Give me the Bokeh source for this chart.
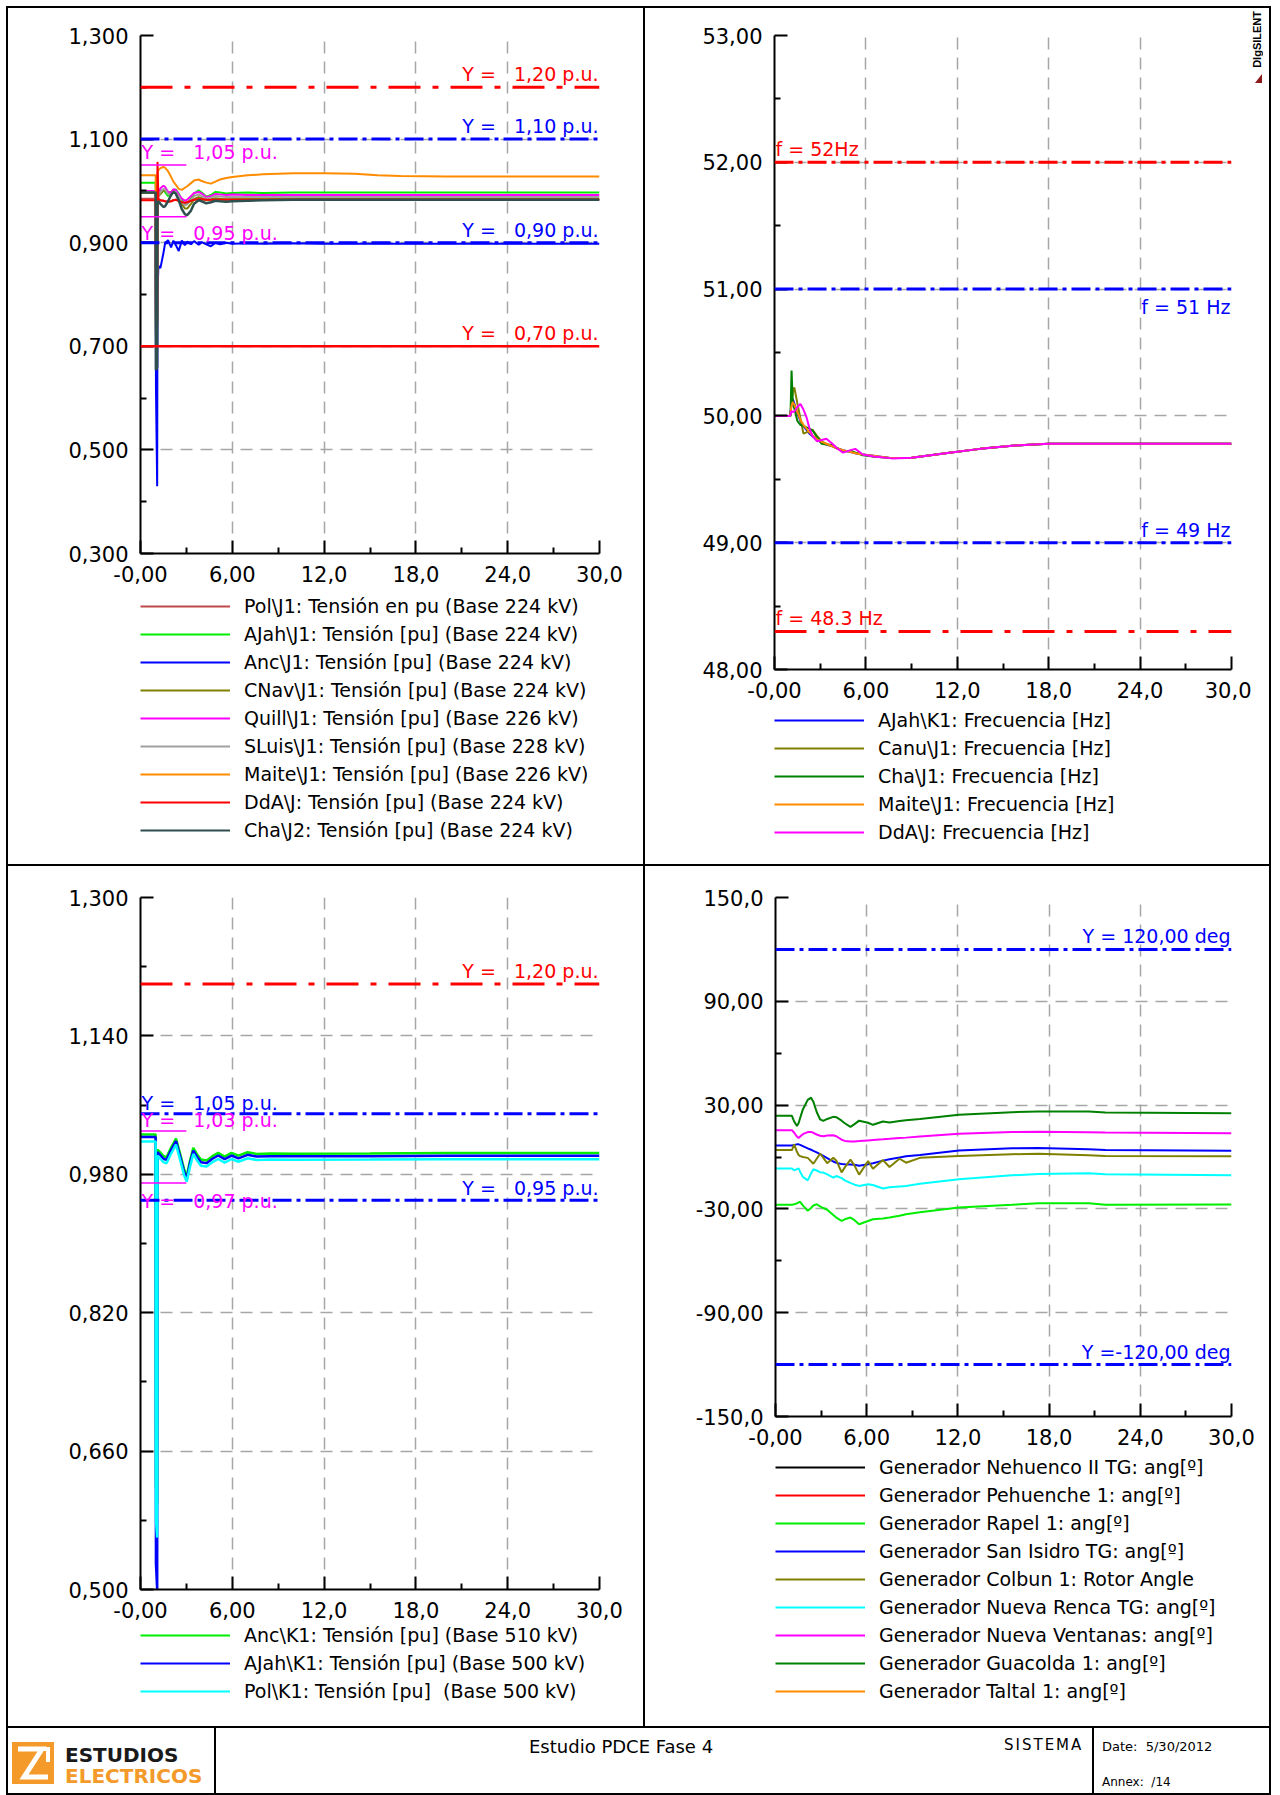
from bokeh.plotting import figure
from bokeh.models import Range1d, FixedTicker, Span, Label, Legend, LegendItem, Div
from bokeh.layouts import row, column
from bokeh.embed import file_html
from bokeh.resources import INLINE

# ------------------------------------------------------------------ data
x_ticks = [0, 6, 12, 18, 24, 30]
x_minor = [3, 9, 15, 21, 27]
x_tick_labels = ["-0,00", "6,00", "12,0", "18,0", "24,0", "30,0"]

# --- top-left: 220 kV voltages
tl_yticks = [0.3, 0.5, 0.7, 0.9, 1.1, 1.3]
tl_yminor = [0.4, 0.6, 0.8, 1.0, 1.2]
tl_ylabels = ["0,300", "0,500", "0,700", "0,900", "1,100", "1,300"]
tl_t = [0.0, 0.99, 1.01, 1.09, 1.11, 1.17, 1.3, 1.5, 1.6, 1.8, 2.0, 2.15, 2.3, 2.5, 2.7, 2.9, 3.05,
        3.3, 3.5, 3.8, 4.0, 4.3, 4.6, 4.9, 5.2, 5.6, 6.0, 7.0, 8.0, 10.0, 12.0, 14.0, 15.5, 17.0,
        20.0, 25.0, 30.0]
tl_pol = [0.985, 0.985, 0.73, 0.75, 0.975, 0.980, 0.982, 0.981, 0.980, 0.979, 0.980, 0.982, 0.983,
          0.981, 0.978, 0.977, 0.978, 0.981, 0.983, 0.984, 0.984, 0.983, 0.983, 0.984, 0.984, 0.984,
          0.984, 0.984, 0.984, 0.984, 0.984, 0.984, 0.984, 0.984, 0.984, 0.984, 0.984]
tl_ajah = [1.0155, 1.0155, 0.74, 0.76, 0.990, 0.996, 1.000, 1.002, 0.998, 0.990, 0.996, 1.001, 1.003,
           0.995, 0.982, 0.973, 0.975, 0.985, 0.995, 1.001, 0.997, 0.989, 0.992, 0.998, 0.997, 0.995,
           0.996, 0.997, 0.996, 0.997, 0.997, 0.997, 0.997, 0.997, 0.997, 0.997, 0.997]
tl_anc = [0.900, 0.900, 0.62, 0.43, 0.80, 0.855, 0.851, 0.880, 0.898, 0.905, 0.891, 0.904, 0.896,
          0.884, 0.904, 0.895, 0.902, 0.897, 0.903, 0.896, 0.901, 0.897, 0.893, 0.900, 0.897, 0.900,
          0.898, 0.899, 0.898, 0.899, 0.898, 0.898, 0.898, 0.898, 0.898, 0.898, 0.898]
tl_cnav = [0.996, 0.996, 0.73, 0.75, 0.985, 0.990, 0.994, 1.000, 1.001, 0.996, 0.998, 1.001, 0.999,
           0.990, 0.975, 0.966, 0.966, 0.975, 0.984, 0.988, 0.986, 0.982, 0.984, 0.986, 0.985, 0.983,
           0.984, 0.984, 0.984, 0.984, 0.984, 0.984, 0.984, 0.984, 0.984, 0.984, 0.984]
tl_quill = [1.000, 1.000, 0.75, 0.77, 0.990, 0.995, 1.005, 1.010, 1.008, 0.998, 0.996, 1.003, 1.002,
            0.993, 0.985, 0.981, 0.983, 0.990, 0.996, 0.998, 0.995, 0.988, 0.990, 0.994, 0.993, 0.992,
            0.993, 0.992, 0.992, 0.992, 0.992, 0.992, 0.992, 0.992, 0.992, 0.992, 0.992]
tl_sluis = [0.998, 0.998, 0.70, 0.72, 0.985, 0.990, 0.998, 1.004, 1.003, 0.994, 0.992, 0.998, 0.998,
            0.989, 0.978, 0.972, 0.974, 0.983, 0.990, 0.993, 0.990, 0.985, 0.987, 0.990, 0.989, 0.988,
            0.988, 0.988, 0.988, 0.988, 0.988, 0.988, 0.988, 0.988, 0.988, 0.988, 0.988]
tl_maite = [1.030, 1.030, 0.76, 0.78, 1.035, 1.040, 1.044, 1.046, 1.045, 1.038, 1.027, 1.018, 1.012,
            1.004, 1.002, 1.006, 1.009, 1.015, 1.020, 1.022, 1.019, 1.016, 1.014, 1.018, 1.022, 1.025,
            1.027, 1.030, 1.032, 1.034, 1.034, 1.033, 1.030, 1.029, 1.028, 1.028, 1.028]
tl_dda = [0.982, 0.982, 0.72, 0.74, 1.056, 0.985, 0.982, 0.981, 0.980, 0.979, 0.980, 0.982, 0.983,
          0.981, 0.978, 0.977, 0.978, 0.981, 0.983, 0.984, 0.984, 0.983, 0.983, 0.983, 0.983, 0.983,
          0.983, 0.983, 0.983, 0.983, 0.983, 0.983, 0.983, 0.983, 0.983, 0.983, 0.983]
tl_cha = [0.997, 0.997, 0.654, 0.66, 0.975, 0.980, 0.975, 0.969, 0.970, 0.980, 0.992, 0.998, 0.995,
          0.982, 0.965, 0.955, 0.953, 0.962, 0.975, 0.982, 0.980, 0.976, 0.978, 0.981, 0.980, 0.979,
          0.980, 0.981, 0.982, 0.983, 0.983, 0.983, 0.983, 0.983, 0.983, 0.983, 0.983]
tl_series = [tl_pol, tl_ajah, tl_anc, tl_cnav, tl_quill, tl_sluis, tl_maite, tl_dda, tl_cha]
tl_names = ["Pol\\J1: Tensión en pu (Base 224 kV)", "AJah\\J1: Tensión [pu] (Base 224 kV)",
            "Anc\\J1: Tensión [pu] (Base 224 kV)", "CNav\\J1: Tensión [pu] (Base 224 kV)",
            "Quill\\J1: Tensión [pu] (Base 226 kV)", "SLuis\\J1: Tensión [pu] (Base 228 kV)",
            "Maite\\J1: Tensión [pu] (Base 226 kV)", "DdA\\J: Tensión [pu] (Base 224 kV)",
            "Cha\\J2: Tensión [pu] (Base 224 kV)"]
tl_limits_red_dashdot = [1.20]
tl_limits_blue = [1.10, 0.90]
tl_limits_red_solid = [0.70]
tl_band = [1.05, 0.95]
tl_band_end = 3.0

# --- top-right: frequency
tr_yticks = [48, 49, 50, 51, 52, 53]
tr_yminor = [48.5, 49.5, 50.5, 51.5, 52.5]
tr_ylabels = ["48,00", "49,00", "50,00", "51,00", "52,00", "53,00"]
tr_t = [0.0, 1.0, 1.05, 1.12, 1.2, 1.3, 1.5, 1.7, 1.9, 2.1, 2.3, 2.5, 2.8, 3.1, 3.4, 3.8, 4.1, 4.5,
        5.0, 5.3, 5.8, 6.5, 7.7, 9.0, 11.6, 13.5, 15.6, 17.0, 18.0, 24.0, 30.0]
tr_tail = [49.670, 49.712, 49.740, 49.765, 49.775, 49.780, 49.780, 49.780]
tr_ajah = [50, 50, 50.03, 50.10, 50.133, 50.10, 50.02, 49.96, 49.92, 49.89, 49.86, 49.84, 49.81, 49.79,
           49.775, 49.76, 49.745, 49.73, 49.715, 49.705, 49.695, 49.685, 49.667] + tr_tail
tr_canu = [50, 50, 50.0, 50.10, 50.18, 50.225, 50.10, 49.98, 49.86, 49.87, 49.885, 49.89, 49.84, 49.80,
           49.78, 49.76, 49.745, 49.725, 49.72, 49.71, 49.695, 49.68, 49.667] + tr_tail
tr_cha = [50, 50, 50.0, 50.357, 50.10, 50.06, 49.96, 49.93, 49.92, 49.91, 49.90, 49.885, 49.83, 49.78,
          49.775, 49.77, 49.745, 49.72, 49.725, 49.71, 49.69, 49.68, 49.667] + tr_tail
tr_maite = [50, 50, 50.02, 50.08, 50.11, 50.09, 50.03, 49.97, 49.93, 49.90, 49.87, 49.845, 49.815, 49.795,
            49.78, 49.76, 49.745, 49.73, 49.715, 49.705, 49.695, 49.685, 49.667] + tr_tail
tr_dda = [50, 50, 50.01, 50.04, 50.03, 50.035, 50.07, 50.094, 50.05, 49.99, 49.90, 49.84, 49.80, 49.81,
          49.82, 49.78, 49.745, 49.71, 49.73, 49.74, 49.695, 49.68, 49.665] + tr_tail
tr_series = [tr_ajah, tr_canu, tr_cha, tr_maite, tr_dda]
tr_names = ["AJah\\K1: Frecuencia [Hz]", "Canu\\J1: Frecuencia [Hz]", "Cha\\J1: Frecuencia [Hz]",
            "Maite\\J1: Frecuencia [Hz]", "DdA\\J: Frecuencia [Hz]"]

# --- bottom-left: 500 kV voltages
bl_yticks = [0.5, 0.66, 0.82, 0.98, 1.14, 1.3]
bl_yminor = [0.58, 0.74, 0.90, 1.06, 1.22]
bl_ylabels = ["0,500", "0,660", "0,820", "0,980", "1,140", "1,300"]
bl_t = [0.0, 0.99, 1.01, 1.09, 1.11, 1.3, 1.5, 1.7, 2.0, 2.32, 2.6, 2.85, 3.02, 3.2, 3.45, 3.7, 3.95,
        4.32, 4.7, 5.08, 5.5, 5.95, 6.4, 7.0, 7.6, 8.5, 10.0, 15.0, 20.0, 30.0]
bl_anc = [1.026, 1.026, 0.62, 0.60, 1.0086, 1.005, 1.001, 0.9997, 1.011, 1.0213, 1.003, 0.986, 0.9775,
          0.993, 1.0105, 1.003, 0.997, 0.9959, 1.001, 1.0047, 1.0005, 1.0047, 1.0015, 1.0055, 1.0035,
          1.004, 1.0038, 1.004, 1.0045, 1.0045]
bl_ajah = [1.023, 1.023, 0.53, 0.50, 1.0056, 1.002, 0.998, 0.9967, 1.008, 1.0183, 1.0, 0.983, 0.9745,
           0.990, 1.0075, 1.0, 0.994, 0.9929, 0.998, 1.0017, 0.9975, 1.0017, 0.9985, 1.0025, 1.0005,
           1.001, 1.0008, 1.001, 1.0015, 1.0015]
bl_pol = [1.018, 1.018, 0.58, 0.56, 1.0016, 0.998, 0.994, 0.9927, 1.004, 1.0143, 0.996, 0.979, 0.9715,
          0.986, 1.0035, 0.996, 0.990, 0.9889, 0.994, 0.9977, 0.9935, 0.9977, 0.9945, 0.9985, 0.9965,
          0.997, 0.9968, 0.997, 0.9975, 0.9975]
bl_series = [bl_anc, bl_ajah, bl_pol]
bl_names = ["Anc\\K1: Tensión [pu] (Base 510 kV)", "AJah\\K1: Tensión [pu] (Base 500 kV)",
            "Pol\\K1: Tensión [pu] \u00a0(Base 500 kV)"]
bl_limits_red = [1.20]
bl_limits_blue = [1.05, 0.95]
bl_band = [1.03, 0.97]
bl_band_end = 3.0

# --- bottom-right: rotor angles
br_yticks = [-150, -90, -30, 30, 90, 150]
br_yminor = [-120, -60, 0, 60, 120]
br_ylabels = ["-150,0", "-90,00", "-30,00", "30,00", "90,00", "150,0"]
br_t = [0.0, 1.08, 1.23, 1.41, 1.52, 1.62, 1.8, 2.12, 2.34, 2.49, 2.71, 2.93, 3.15, 3.4, 3.8, 4.0,
        4.35, 4.56, 4.93, 5.2, 5.5, 6.09, 6.41, 7.07, 7.5, 8.16, 8.59, 9.5, 12.07, 15.56, 17.3,
        20.6, 21.7, 30.0]
br_nehuenco = []
br_pehuenche = []
br_rapel = [-27.6, -27.6, -27.3, -26.8, -26.2, -25.9, -28.0, -31.1, -29.5, -28.0, -27.3, -28.5, -29.5,
            -30.5, -33.5, -35.0, -36.9, -36.0, -35.0, -36.5, -38.9, -37.0, -36.0, -35.5, -35.0, -34.0,
            -33.1, -32.0, -29.2, -27.6, -26.7, -26.7, -27.6, -27.5]
br_sanisidro = [6.7, 6.7, 7.0, 7.3, 7.3, 7.0, 6.3, 5.0, 4.2, 3.5, 2.7, 1.7, 0.6, -0.6, -2.6, -3.4, -4.0,
                -4.2, -4.3, -4.5, -5.0, -4.2, -3.6, -2.1, -1.3, -0.3, 0.4, 1.2, 3.7, 5.0, 5.2, 4.5,
                4.0, 3.6]
br_colbun = [4.0, 4.0, 7.3, 3.0, 1.2, 0.5, 0.0, -0.5, -2.5, -3.9, -1.0, 1.9, -0.5, -3.6, -0.5, -2.0,
             -8.9, -6.0, -1.5, -5.0, -10.2, -2.4, -6.8, -1.8, -5.8, -1.0, -3.3, -0.5, 0.6, 1.6, 1.9,
             1.0, 0.6, 0.4]
br_nuevarenca = [-6.6, -6.6, -7.7, -7.0, -6.6, -8.5, -11.5, -13.5, -9.5, -7.1, -7.8, -8.8, -9.0, -10.0,
                 -11.9, -11.0, -12.2, -13.5, -15.0, -16.0, -16.7, -15.8, -16.2, -18.2, -17.5, -17.0,
                 -16.7, -15.5, -12.9, -10.6, -9.8, -9.4, -10.0, -10.6]
br_ventanas = [15.5, 15.5, 14.0, 11.8, 11.0, 11.8, 13.2, 14.4, 14.5, 14.0, 13.0, 12.3, 12.0, 12.4, 12.6,
               12.0, 10.0, 9.3, 8.9, 9.0, 9.2, 9.6, 9.8, 10.2, 10.5, 11.0, 11.2, 11.8, 13.5, 14.5, 14.6,
               14.3, 14.1, 13.7]
br_guacolda = [23.8, 23.8, 20.5, 18.0, 19.5, 22.5, 27.5, 33.0, 34.3, 32.0, 26.0, 21.8, 20.9, 22.0, 23.2,
               23.0, 21.0, 19.5, 17.4, 19.0, 21.0, 19.8, 18.6, 20.5, 20.0, 20.8, 21.3, 22.0, 24.4, 25.9,
               26.3, 26.3, 25.7, 25.3]
br_taltal = []
br_series = [br_nehuenco, br_pehuenche, br_rapel, br_sanisidro, br_colbun, br_nuevarenca, br_ventanas,
             br_guacolda, br_taltal]
br_names = ["Generador Nehuenco II TG: ang[º]", "Generador Pehuenche 1: ang[º]",
            "Generador Rapel 1: ang[º]", "Generador San Isidro TG: ang[º]",
            "Generador Colbun 1: Rotor Angle", "Generador Nueva Renca TG: ang[º]",
            "Generador Nueva Ventanas: ang[º]", "Generador Guacolda 1: ang[º]",
            "Generador Taltal 1: ang[º]"]
br_limits_blue = [120.0, -120.0]

# ------------------------------------------------------------------ style
FONT = "DejaVu Sans"
GRID = "#a6a6a6"
RED = "#ff0000"
BLUE = "#0000ff"
MAG = "#ff00ff"
DASH_LONG = "32 12 6 12"
DASH_DOT = "19 5 4 5"
NB = "\u00a0"
NAN = float("nan")

tl_colors = ["#c04848", "#00ee00", BLUE, "#808000", MAG, "#a0a0a0", "#ff8c00", RED, "#2f4f4f"]
tr_colors = [BLUE, "#808000", "#008000", "#ff8c00", MAG]
bl_colors = ["#00ee00", BLUE, "#00ffff"]
br_colors = ["#000000", RED, "#00ee00", BLUE, "#808000", "#00ffff", MAG, "#008000", "#ff8c00"]


def pu(v, dec=2):
    return f"{v:.{dec}f}".replace(".", ",")


def panel(width, height, left, right, top, bottom, yr, yt, ym, yl):
    p = figure(width=width, height=height, x_range=Range1d(0, 30), y_range=Range1d(*yr),
               output_backend="svg", toolbar_location=None,
               min_border_left=left, min_border_right=right,
               min_border_top=top, min_border_bottom=bottom)
    p.outline_line_color = None
    p.background_fill_color = "white"
    p.border_fill_color = "white"
    xa = p.xaxis[0]
    ya = p.yaxis[0]
    xa.ticker = FixedTicker(ticks=x_ticks, minor_ticks=x_minor)
    xa.major_label_overrides = {float(v): s for v, s in zip(x_ticks, x_tick_labels)}
    ya.ticker = FixedTicker(ticks=yt, minor_ticks=ym)
    ya.major_label_overrides = {float(v): s for v, s in zip(yt, yl)}
    for ax in (xa, ya):
        ax.axis_line_color = "black"
        ax.axis_line_width = 2
        ax.major_tick_in = 13
        ax.major_tick_out = 0
        ax.minor_tick_in = 6
        ax.minor_tick_out = 0
        ax.major_tick_line_color = "black"
        ax.major_tick_line_width = 2
        ax.minor_tick_line_color = "black"
        ax.minor_tick_line_width = 2
        ax.major_label_text_font = FONT
        ax.major_label_text_font_size = "21px"
        ax.major_label_text_color = "black"
    xa.major_label_standoff = 12
    ya.major_label_standoff = 12
    for g in (p.xgrid[0], p.ygrid[0]):
        g.grid_line_color = GRID
        g.grid_line_dash = "12 8"
        g.grid_line_width = 1.5
    return p


def legend_fig(width, height, left, top, colors, names):
    lf = figure(width=width, height=height, x_range=Range1d(0, 1), y_range=Range1d(0, 1),
                x_axis_type=None, y_axis_type=None, output_backend="svg", toolbar_location=None,
                min_border_left=left, min_border_top=top, min_border_right=0, min_border_bottom=0)
    lf.outline_line_color = None
    lf.background_fill_color = "white"
    lf.border_fill_color = "white"
    # key renderers: carry the series colour for the legend sample, draw nothing themselves
    rs = [lf.line(x=[NAN], y=[NAN], line_color=c, line_width=2) for c in colors]
    items = [LegendItem(label=n, renderers=[r]) for n, r in zip(names, rs)]
    leg = Legend(items=items, location="top_left", orientation="vertical",
                 glyph_width=90, glyph_height=20, label_height=20, label_standoff=14,
                 spacing=6, padding=0, margin=0, border_line_alpha=0,
                 background_fill_alpha=0, label_text_font=FONT,
                 label_text_font_size="19px", label_text_color="black")
    lf.add_layout(leg)
    return lf


def hline(p, y, color, dash, width=3):
    p.add_layout(Span(location=y, dimension="width", line_color=color,
                      line_width=width, line_dash=dash))


def tag(p, x, y, text, color, align, dy, dx=0):
    p.add_layout(Label(x=x, y=y, text=text, text_color=color, text_align=align,
                       text_baseline="middle", x_offset=dx, y_offset=dy,
                       text_font=FONT, text_font_size="19px"))


def Yeq(v, unit="p.u.", dec=2):
    return f"Y{NB}={NB}{NB}{NB}{pu(v, dec)} {unit}"


# ------------------------------------------------------------------ top-left
p_tl = panel(635, 585, 131, 44, 27, 40, (0.3, 1.3), tl_yticks, tl_yminor, tl_ylabels)
for s, c in zip(tl_series, tl_colors):
    p_tl.line(tl_t, s, line_color=c, line_width=2.5 if c == "#2f4f4f" else 2)
for lv in tl_band:
    p_tl.line([0, tl_band_end], [lv, lv], line_color=MAG, line_width=1.5)
for lv in tl_limits_red_dashdot:
    hline(p_tl, lv, RED, DASH_LONG)
    tag(p_tl, 30, lv, Yeq(lv), RED, "right", 13, -1)
for lv in tl_limits_blue:
    hline(p_tl, lv, BLUE, DASH_DOT)
    tag(p_tl, 30, lv, Yeq(lv), BLUE, "right", 13, -1)
for lv in tl_limits_red_solid:
    hline(p_tl, lv, RED, "solid", 2.5)
    tag(p_tl, 30, lv, Yeq(lv), RED, "right", 13, -1)
tag(p_tl, 0, tl_band[0], Yeq(tl_band[0]), MAG, "left", 13, 1)
tag(p_tl, 0, tl_band[1], Yeq(tl_band[1]), MAG, "left", -16, 1)
l_tl = legend_fig(635, 271, 132, 2, tl_colors, tl_names)

# ------------------------------------------------------------------ top-right
p_tr = panel(606, 701, 127, 20, 27, 40, (48, 53), tr_yticks, tr_yminor, tr_ylabels)
for s, c in zip(tr_series, tr_colors):
    p_tr.line(tr_t, s, line_color=c, line_width=2)
hline(p_tr, 52, RED, DASH_DOT)
hline(p_tr, 51, BLUE, DASH_DOT)
hline(p_tr, 49, BLUE, DASH_DOT)
hline(p_tr, 48.3, RED, DASH_LONG)
tag(p_tr, 0, 52, f"f{NB}={NB}52Hz", RED, "left", 13, 1)
tag(p_tr, 30, 51, f"f{NB}={NB}51{NB}Hz", BLUE, "right", -18, -1)
tag(p_tr, 30, 49, f"f{NB}={NB}49{NB}Hz", BLUE, "right", 13, -1)
tag(p_tr, 0, 48.3, f"f{NB}={NB}48.3{NB}Hz", RED, "left", 13, 1)
l_tr = legend_fig(606, 155, 129, 0, tr_colors, tr_names)

# ------------------------------------------------------------------ bottom-left
p_bl = panel(635, 758, 131, 44, 31, 35, (0.5, 1.3), bl_yticks, bl_yminor, bl_ylabels)
for s, c in zip(bl_series, bl_colors):
    p_bl.line(bl_t, s, line_color=c, line_width=2.5)
for lv in bl_band:
    p_bl.line([0, bl_band_end], [lv, lv], line_color=MAG, line_width=1.5)
for lv in bl_limits_red:
    hline(p_bl, lv, RED, DASH_LONG)
    tag(p_bl, 30, lv, Yeq(lv), RED, "right", 13, -1)
for lv in bl_limits_blue:
    hline(p_bl, lv, BLUE, DASH_DOT)
tag(p_bl, 0, bl_limits_blue[0], Yeq(bl_limits_blue[0]), BLUE, "left", 11, 1)
tag(p_bl, 30, bl_limits_blue[1], Yeq(bl_limits_blue[1]), BLUE, "right", 12, -1)
tag(p_bl, 0, bl_band[0], Yeq(bl_band[0]), MAG, "left", 11, 1)
tag(p_bl, 0, bl_band[1], Yeq(bl_band[1]), MAG, "left", -18, 1)
l_bl = legend_fig(635, 102, 132, 0, bl_colors, bl_names)

# ------------------------------------------------------------------ bottom-right
p_br = panel(624, 590, 127, 38, 31, 40, (-150, 150), br_yticks, br_yminor, br_ylabels)
for s, c in zip(br_series, br_colors):
    if len(s):
        p_br.line(br_t[:len(s)], s, line_color=c, line_width=2)
for lv in br_limits_blue:
    hline(p_br, lv, BLUE, DASH_DOT)
tag(p_br, 30, br_limits_blue[0], f"Y{NB}={NB}{pu(br_limits_blue[0])}{NB}deg", BLUE, "right", 13, -1)
tag(p_br, 30, br_limits_blue[1], f"Y{NB}={pu(br_limits_blue[1])}{NB}deg", BLUE, "right", 13, -1)
l_br = legend_fig(624, 270, 130, 0, br_colors, br_names)


# ------------------------------------------------------------------ frame / title block
def bar(w, h):
    return Div(text="", width=w, height=h, margin=0, styles={"background-color": "#000000"})


def gap(w, h):
    return Div(text="", width=w, height=h, margin=0)


brand_html = (
    '<div style="position:relative;width:18px;height:856px;">'
    '<div style="position:absolute;left:1px;top:3px;writing-mode:vertical-rl;'
    'transform:rotate(180deg);font:bold 11px \'Liberation Sans\';line-height:11px;'
    'color:#000;white-space:nowrap">DIgSILENT</div>'
    '<svg style="position:absolute;left:4px;top:66px" width="7" height="9">'
    '<polygon points="0,9 7,0 7,9" fill="#8b1a1a"/></svg>'
    '</div>')

logo_html = (
    '<div style="position:relative;width:206px;height:65px;overflow:hidden;">'
    '<svg style="position:absolute;left:4px;top:14px" width="42" height="42" viewBox="0 0 42 42">'
    '<rect x="0" y="0" width="42" height="42" fill="#f39a2b"/>'
    '<polyline points="6,7 30,7 12,35 36,35" fill="none" stroke="#ffffff" stroke-width="5"/>'
    '<polyline points="30,7 36,7 36,20" fill="none" stroke="#ffffff" stroke-width="4"/>'
    '</svg>'
    '<div style="position:absolute;left:57px;top:17px;font:bold 20px \'DejaVu Sans\';'
    'line-height:1;color:#1a1a1a;white-space:nowrap">ESTUDIOS</div>'
    '<div style="position:absolute;left:57px;top:38px;font:bold 20px \'DejaVu Sans\';'
    'line-height:1;color:#f39a2b;white-space:nowrap">ELECTRICOS</div>'
    '</div>')
center_html = (
    '<div style="position:relative;width:876px;height:65px;">'
    '<div style="position:absolute;left:313px;top:10px;font:18px \'DejaVu Sans\';'
    'line-height:1;color:#000;white-space:nowrap">Estudio PDCE Fase 4</div>'
    '<div style="position:absolute;left:788px;top:10px;font:15px \'DejaVu Sans\';'
    'letter-spacing:2px;line-height:1;color:#000;white-space:nowrap">SISTEMA</div>'
    '</div>')
right_html = (
    '<div style="position:relative;width:175px;height:65px;">'
    '<div style="position:absolute;left:8px;top:12px;font:13px \'DejaVu Sans\';'
    'line-height:1;color:#000;white-space:pre">Date:  5/30/2012</div>'
    '<div style="position:absolute;left:8px;top:48px;font:12px \'DejaVu Sans\';'
    'line-height:1;color:#000;white-space:pre">Annex:  /14</div>'
    '</div>')

brand = Div(text=brand_html, width=18, height=856, margin=0)
logo = Div(text=logo_html, width=206, height=65, margin=0)
center = Div(text=center_html, width=876, height=65, margin=0)
right = Div(text=right_html, width=175, height=65, margin=0)

top_row = row(bar(2, 856), column(p_tl, l_tl, spacing=0), bar(2, 856),
              column(p_tr, l_tr, spacing=0), brand, bar(2, 856), spacing=0)
bot_row = row(bar(2, 860), column(p_bl, l_bl, spacing=0), bar(2, 860),
              column(p_br, l_br, spacing=0), bar(2, 860), spacing=0)
title_row = row(bar(2, 65), logo, bar(2, 65), center, bar(2, 65), right, bar(2, 65), spacing=0)
inner = column(bar(1265, 2), top_row, bar(1265, 2), bot_row, bar(1265, 2), title_row,
               bar(1265, 2), spacing=0)
page = column(gap(1271, 6), row(gap(6, 1789), inner, spacing=0), spacing=0)

open("out.html", "w").write(file_html(page, INLINE, title="Estudio PDCE Fase 4"))
